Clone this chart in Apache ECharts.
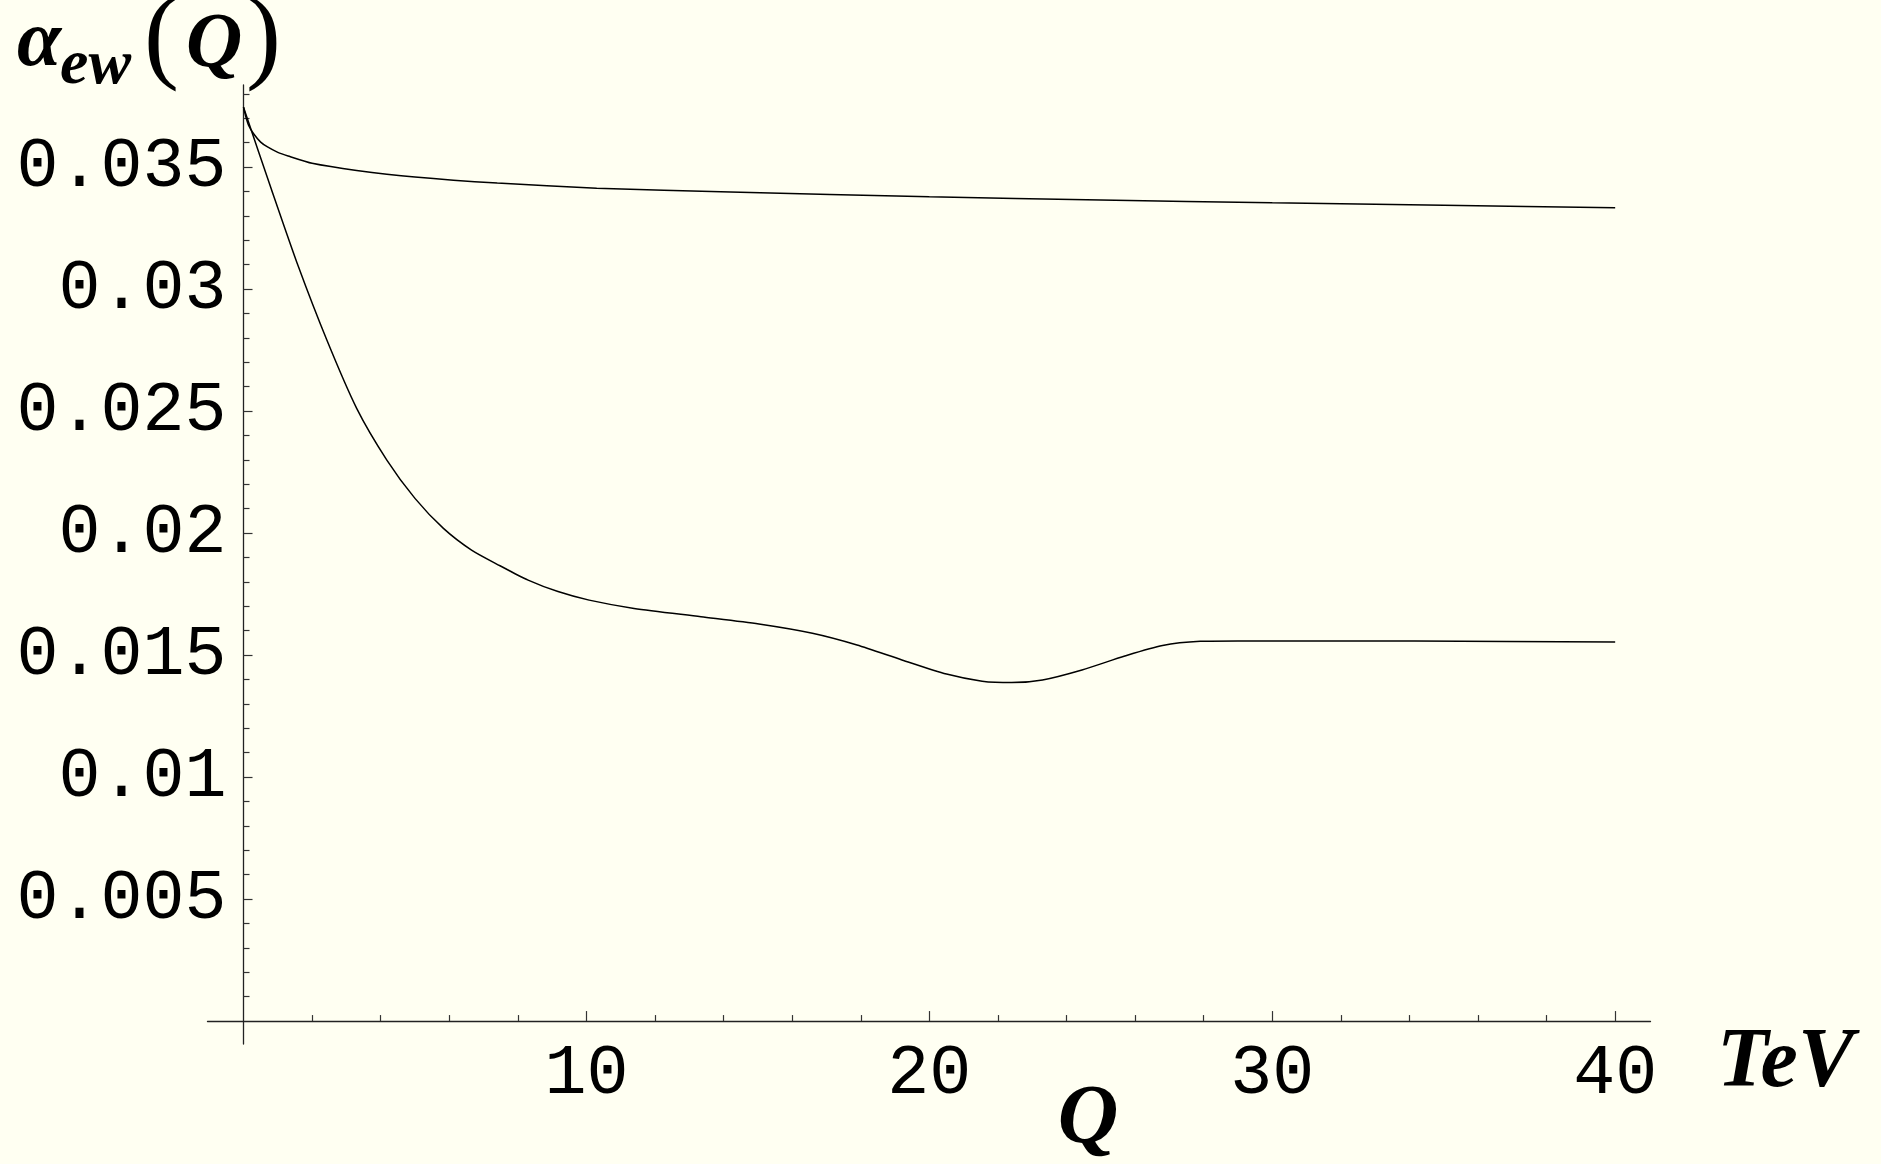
<!DOCTYPE html>
<html>
<head>
<meta charset="utf-8">
<script src="https://cdn.jsdelivr.net/npm/echarts@6/dist/echarts.min.js"></script>
<style>
  html, body { margin: 0; padding: 0; background: #fffff2; }
  #chart { width: 1881px; height: 1164px; }
</style>
</head>
<body>
<div id="chart"></div>
<script>
// upper curve: alpha_ew(Q)
const qUpper = [0, 0.06, 0.15, 0.3, 0.5, 0.7, 1.0, 1.3, 2.0, 3.3, 5, 7.4, 10.3, 14.2, 20, 25, 30, 35, 40];
const alphaUpper = [0.03745, 0.0371, 0.0367, 0.03635, 0.03602, 0.03582, 0.0356, 0.03545, 0.03515, 0.03486,
  0.03459, 0.03434, 0.03413, 0.03398, 0.03378, 0.03365, 0.03353, 0.03343, 0.03333];

// lower curve
const qLower = [0, 0.82, 1.6, 2.43, 3.3, 4.18, 5.0, 5.83, 6.65, 7.48, 8.3, 9.17, 10.08, 11.39, 13.34, 15.03,
  16.59, 17.89, 19.2, 20.5, 21.54, 22.4, 23.3, 24.45, 25.7, 26.8, 27.9, 29, 34.15, 40];
const alphaLower = [0.03745, 0.03406, 0.03092, 0.02791, 0.02511, 0.02299, 0.02142, 0.02019, 0.0193, 0.01866,
  0.01807, 0.0176, 0.01725, 0.01691, 0.01657, 0.01627, 0.01589, 0.01541, 0.0148, 0.01422, 0.01393, 0.01387,
  0.01398, 0.01439, 0.01496, 0.01539, 0.01556, 0.01558, 0.01557, 0.01553];

// ticks
const xMajor = [10, 20, 30, 40];
const xMajorLabels = ['10', '20', '30', '40'];
const xMinor = [2, 4, 6, 8, 12, 14, 16, 18, 22, 24, 26, 28, 32, 34, 36, 38];
const yMajor = [0.005, 0.01, 0.015, 0.02, 0.025, 0.03, 0.035];
const yMajorLabels = ['0.005', '0.01', '0.015', '0.02', '0.025', '0.03', '0.035'];
const yMinor = [0.001, 0.002, 0.003, 0.004, 0.006, 0.007, 0.008, 0.009, 0.011, 0.012, 0.013, 0.014,
  0.016, 0.017, 0.018, 0.019, 0.021, 0.022, 0.023, 0.024, 0.026, 0.027, 0.028, 0.029,
  0.031, 0.032, 0.033, 0.034, 0.036, 0.037, 0.038];

const xMin = -1.05, xMax = 41.03;
const yMin = -0.00094, yMax = 0.03836;

const zip = (xs, ys) => xs.map((x, i) => [x, ys[i]]);
const pickLabel = (vals, labels) => v => {
  const i = vals.findIndex(t => Math.abs(t - v) < 1e-9);
  return i < 0 ? '' : labels[i];
};

const serif = '"Liberation Serif", "DejaVu Serif", serif';
const mono = '"Liberation Mono", "DejaVu Sans Mono", monospace';
const ink = '#000';

const chart = echarts.init(document.getElementById('chart'), null, {renderer: 'canvas'});

const option = {
  backgroundColor: '#fffff2',
  animation: false,
  grid: {
    left: 207.5,
    right: 230.5,
    top: 85,
    bottom: 120,
    outerBoundsMode: 'none',
  },
  xAxis: [
    {
      type: 'value',
      min: xMin,
      max: xMax,
      position: 'bottom',
      axisLine: {onZero: true, onZeroAxisIndex: 0, lineStyle: {color: '#222', width: 1.3}},
      axisTick: {customValues: xMajor, inside: true, length: 10, lineStyle: {color: '#333', width: 1.2}},
      axisLabel: {
        customValues: xMajor,
        formatter: pickLabel(xMajor, xMajorLabels),
        margin: -5, // labels are measured from the grid edge, not the zero line
        color: ink,
        fontFamily: mono,
        fontSize: 70,
      },
      splitLine: {show: false},
    },
    {
      // minor ticks only
      type: 'value',
      min: xMin,
      max: xMax,
      position: 'top',
      axisLine: {onZero: true, onZeroAxisIndex: 0, lineStyle: {color: 'transparent'}},
      axisTick: {customValues: xMinor, inside: false, length: 6, lineStyle: {color: '#333', width: 1.2}},
      axisLabel: {show: false},
      splitLine: {show: false},
    },
  ],
  yAxis: [
    {
      type: 'value',
      min: yMin,
      max: yMax,
      position: 'left',
      axisLine: {show: true, onZero: true, onZeroAxisIndex: 0, lineStyle: {color: '#222', width: 1.3}},
      axisTick: {show: true, customValues: yMajor, inside: true, length: 9, lineStyle: {color: '#333', width: 1.2}},
      axisLabel: {
        customValues: yMajor,
        formatter: pickLabel(yMajor, yMajorLabels),
        margin: -19,
        color: ink,
        fontFamily: mono,
        fontSize: 70,
      },
      splitLine: {show: false},
    },
    {
      type: 'value',
      min: yMin,
      max: yMax,
      position: 'right',
      axisLine: {show: true, onZero: true, onZeroAxisIndex: 0, lineStyle: {color: 'transparent'}},
      axisTick: {show: true, customValues: yMinor, inside: false, length: 6, lineStyle: {color: '#333', width: 1.2}},
      axisLabel: {show: false},
      splitLine: {show: false},
    },
  ],
  series: [
    {
      name: 'upper',
      type: 'line',
      xAxisIndex: 0,
      yAxisIndex: 0,
      data: zip(qUpper, alphaUpper),
      showSymbol: false,
      smooth: 0.2,
      lineStyle: {color: ink, width: 1.5},
    },
    {
      name: 'lower',
      type: 'line',
      xAxisIndex: 0,
      yAxisIndex: 0,
      data: zip(qLower, alphaLower),
      showSymbol: false,
      smooth: 0.25,
      lineStyle: {color: ink, width: 1.5},
    },
  ],
  graphic: [
    // y axis label  alpha_ew(Q)
    {type: 'text', x: 17, y: 44, style: {text: 'α', font: 'italic bold 80px ' + serif, fill: ink, align: 'left', verticalAlign: 'middle'}},
    {type: 'text', x: 60, y: 66, style: {text: 'ew', font: 'italic bold 64px ' + serif, fill: ink, align: 'left', verticalAlign: 'middle'}},
    {type: 'text', x: 144, y: 41, style: {text: '(', font: '105px ' + serif, fill: ink, align: 'left', verticalAlign: 'middle'}},
    {type: 'text', x: 186, y: 46, style: {text: 'Q', font: 'italic bold 78px ' + serif, fill: ink, align: 'left', verticalAlign: 'middle'}},
    {type: 'text', x: 246, y: 41, style: {text: ')', font: '105px ' + serif, fill: ink, align: 'left', verticalAlign: 'middle'}},
    // x axis labels
    {type: 'text', x: 1717, y: 1064, style: {text: 'TeV', font: 'italic bold 84px ' + serif, fill: ink, align: 'left', verticalAlign: 'middle'}},
    {type: 'text', x: 1088, y: 1121, style: {text: 'Q', font: 'italic bold 84px ' + serif, fill: ink, align: 'center', verticalAlign: 'middle'}},
  ],
};

chart.setOption(option);
</script>
</body>
</html>
